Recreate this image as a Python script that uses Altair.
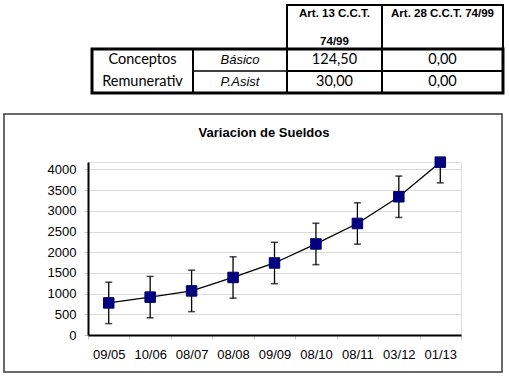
import altair as alt
import pandas as pd

# ---------------- chart data ----------------
categories = ["09/05", "10/06", "08/07", "08/08", "09/09", "08/10", "08/11", "03/12", "01/13"]
sueldos = [775, 915, 1065, 1390, 1740, 2200, 2695, 3340, 4176]
errores = [500, 500, 500, 500, 500, 500, 500, 500, 500]
y_ticks = [0, 500, 1000, 1500, 2000, 2500, 3000, 3500, 4000]
chart_title = "Variacion de Sueldos"

# ---------------- table data ----------------
header_art13 = ["Art. 13 C.C.T.", "74/99"]
header_art28 = ["Art. 28 C.C.T. 74/99"]
row_group = ["Conceptos", "Remunerativ"]
row_labels = ["Básico", "P.Asist"]
art13 = ["124,50", "30,00"]
art28 = ["0,00", "0,00"]

# ---------------- table layout (cell sizes) ----------------
COL_W = [101, 94, 95, 121]
ROW_H = [44, 22, 22]
col_edges = [0]
for w in COL_W:
    col_edges.append(col_edges[-1] + w)
row_edges = [0]
for h in ROW_H:
    row_edges.append(row_edges[-1] + h)

def cell(c0, c1, r0, r1, sw):
    return {"x0": col_edges[c0], "x1": col_edges[c1], "y0": row_edges[r0], "y1": row_edges[r1], "sw": sw}

cells = pd.DataFrame([
    cell(2, 3, 0, 1, 2), cell(3, 4, 0, 1, 2),
    cell(0, 1, 1, 3, 2),
    cell(1, 2, 1, 2, 1), cell(1, 2, 2, 3, 1),
    cell(2, 3, 1, 2, 2), cell(2, 3, 2, 3, 2),
    cell(3, 4, 1, 2, 2), cell(3, 4, 2, 3, 2),
    cell(0, 4, 1, 3, 3),
])

def cx(c):
    return (col_edges[c] + col_edges[c + 1]) / 2

def cy(r):
    return (row_edges[r] + row_edges[r + 1]) / 2

body_txt = pd.DataFrame(
    [{"x": cx(0), "y": cy(1 + i), "t": row_group[i]} for i in range(2)]
    + [{"x": cx(2), "y": cy(1 + i), "t": art13[i]} for i in range(2)]
    + [{"x": cx(3), "y": cy(1 + i), "t": art28[i]} for i in range(2)]
)
ital_txt = pd.DataFrame([{"x": cx(1), "y": cy(1 + i), "t": row_labels[i]} for i in range(2)])
head_txt = pd.DataFrame([
    {"x": cx(2), "y": row_edges[0] + 9, "t": header_art13[0]},
    {"x": cx(2), "y": row_edges[1] - 7, "t": header_art13[1]},
    {"x": cx(3), "y": row_edges[0] + 9, "t": header_art28[0]},
])

# table scales: table units -> pixels (relative to the plot origin)
tx = alt.Scale(domain=[0, col_edges[-1]], range=[4, 4 + col_edges[-1]], nice=False, zero=False)
ty = alt.Scale(domain=[0, row_edges[-1]], range=[-157, -157 + row_edges[-1]], nice=False, zero=False)

table_rects = alt.Chart(cells).mark_rect(fillOpacity=0, stroke="black").encode(
    x=alt.X("x0:Q", scale=tx, axis=None),
    x2="x1:Q",
    y=alt.Y("y0:Q", scale=ty, axis=None),
    y2="y1:Q",
    strokeWidth=alt.StrokeWidth("sw:Q", scale=None, legend=None),
)

def table_text(df, **kw):
    return alt.Chart(df).mark_text(baseline="middle", align="center", color="black", **kw).encode(
        x=alt.X("x:Q", scale=tx, axis=None),
        y=alt.Y("y:Q", scale=ty, axis=None),
        text="t:N",
    )

t_body = table_text(body_txt, font="Lato", fontSize=14.5)
t_ital = table_text(ital_txt, font="Liberation Sans", fontSize=13, fontStyle="italic")
t_head = table_text(head_txt, font="Liberation Sans", fontSize=11.5, fontWeight="bold")

# ---------------- line chart ----------------
df = pd.DataFrame({"cat": categories, "v": sueldos, "e": errores})
df["lo"] = df["v"] - df["e"]
df["hi"] = df["v"] + df["e"]

xs = alt.X(
    "cat:N", sort=categories,
    scale=alt.Scale(type="band", paddingInner=0, paddingOuter=0),
    axis=alt.Axis(title=None, labelAngle=0, tickBand="extent", tickSize=4, tickColor="#c8c8c8",
                  domainColor="black", domainWidth=2, labelFont="Liberation Sans", labelFontSize=13,
                  labelColor="black", labelPadding=9, grid=False),
)
ysc = alt.Scale(domain=[0, 4180], nice=False)
yax = alt.Axis(title=None, values=y_ticks, format="d", grid=True, gridColor="#d9d9d9", gridWidth=1.2,
               tickSize=4, tickColor="#c8c8c8", domainColor="black", domainWidth=2,
               labelFont="Liberation Sans", labelFontSize=13, labelColor="black", labelPadding=8)

base = alt.Chart(df)
err = base.mark_rule(color="black", strokeWidth=1.3, clip=True).encode(
    x=xs, y=alt.Y("lo:Q", scale=ysc, axis=yax), y2="hi:Q")
cap_lo = base.mark_tick(color="black", size=7, thickness=1.6, clip=True).encode(
    x=xs, y=alt.Y("lo:Q", scale=ysc, axis=yax))
cap_hi = base.mark_tick(color="black", size=7, thickness=1.6, clip=True).encode(
    x=xs, y=alt.Y("hi:Q", scale=ysc, axis=yax))
line = base.mark_line(color="black", strokeWidth=1.3).encode(
    x=xs, y=alt.Y("v:Q", scale=ysc, axis=yax))
pts = base.mark_square(color="#000080", size=110, opacity=1, stroke="#00006a", strokeWidth=1).encode(
    x=xs, y=alt.Y("v:Q", scale=ysc, axis=yax))

main = alt.layer(err, cap_lo, cap_hi, line, pts)

frame = alt.Chart(alt.Data(values=[{}])).mark_rect(fillOpacity=0, stroke="#3a3a3a", strokeWidth=1.5).encode(
    x=alt.value(-84), x2=alt.value(414), y=alt.value(-48), y2=alt.value(210)
)

title = alt.Chart(alt.Data(values=[{"t": chart_title}])).mark_text(
    font="Liberation Sans", fontSize=13, fontWeight="bold", color="black",
    align="center", baseline="middle"
).encode(x=alt.value(176), y=alt.value(-29), text="t:N")

chart = alt.layer(main, table_rects, t_body, t_ital, t_head, frame, title).resolve_scale(
    x="independent", y="independent"
).properties(
    width=373, height=173,
    autosize=alt.AutoSizeParams(type="none"),
    padding={"left": 88, "top": 162, "right": 48, "bottom": 43},
).configure_view(
    stroke="#a6a6a6", strokeWidth=1.5
).configure(background="white")

chart.save("out.html", embed_options={"renderer": "svg", "actions": False})
